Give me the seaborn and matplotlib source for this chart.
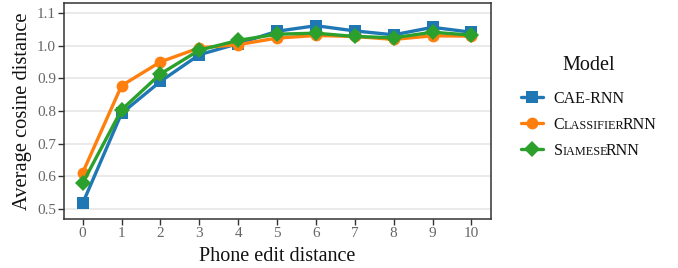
import numpy as np
import pandas as pd
import matplotlib
matplotlib.use("Agg")
import matplotlib.pyplot as plt
import seaborn as sns
from matplotlib.offsetbox import TextArea, HPacker

edit_distance = list(range(11))
cae_rnn = [0.517, 0.793, 0.891, 0.973, 1.007, 1.045, 1.062, 1.046, 1.034, 1.057, 1.042]
classifier_rnn = [0.611, 0.878, 0.951, 0.994, 1.004, 1.024, 1.032, 1.029, 1.020, 1.031, 1.030]
siamese_rnn = [0.579, 0.804, 0.914, 0.987, 1.017, 1.036, 1.039, 1.029, 1.025, 1.042, 1.033]
model_names = ["CAE-RNN", "ClassifierRNN", "SiameseRNN"]
y_ticks = [0.5, 0.6, 0.7, 0.8, 0.9, 1.0, 1.1]

df = pd.concat([
    pd.DataFrame({"Phone edit distance": edit_distance, "Average cosine distance": vals, "Model": name})
    for name, vals in zip(model_names, [cae_rnn, classifier_rnn, siamese_rnn])
])

sns.set_theme(style="whitegrid")
plt.rcParams["font.family"] = ["Liberation Serif", "DejaVu Serif"]

fig = plt.figure(figsize=(6.78, 2.68), dpi=100)
ax = fig.add_axes([0.095, 0.183, 0.629, 0.805])

palette = ["#1f77b4", "#ff7f0e", "#2ca02c"]
sns.lineplot(data=df, x="Phone edit distance", y="Average cosine distance", hue="Model",
             style="Model", markers=["s", "o", "D"], dashes=False, palette=palette,
             linewidth=2.4, markersize=8.5, markeredgewidth=0, ax=ax)

ax.set_xlim(-0.47, 10.5)
ax.set_ylim(0.469, 1.131)
ax.set_xticks(edit_distance)
ax.set_yticks(y_ticks)
ax.set_yticklabels([f"{v:.1f}" for v in y_ticks])
ax.grid(axis="x", visible=False)
ax.grid(axis="y", color="#e6e6e6", linewidth=1.2)
for s in ax.spines.values():
    s.set_color("#333333")
    s.set_linewidth(1.1)
ax.tick_params(axis="both", which="both", length=4, width=1, color="#333333",
               labelcolor="#666666", labelsize=11, pad=2, left=True, bottom=True)
ax.set_xlabel("Phone edit distance", fontsize=14.5, color="#111111", labelpad=5)
ax.set_ylabel("Average cosine distance", fontsize=14.8, color="#111111", labelpad=4)

leg = ax.legend(title="Model", loc="center left", bbox_to_anchor=(1.055, 0.517),
                frameon=False, fontsize=11.5, title_fontsize=14.5, handlelength=1.4,
                labelspacing=0.62, borderaxespad=0, handletextpad=0.65)
leg.get_title().set_color("#111111")
leg._legend_box.sep += 4

parts = {
    "ClassifierRNN": ("C", "LASSIFIER", "RNN"),
    "SiameseRNN": ("S", "IAMESE", "RNN"),
}
tp_big = dict(fontsize=11.5, color="#111111", family=["Liberation Serif", "DejaVu Serif"])
tp_small = dict(fontsize=8.8, color="#111111", family=["Liberation Serif", "DejaVu Serif"])
for col in leg._legend_handle_box.get_children():
    for item in col.get_children():
        ta = item.get_children()[1]
        label = ta._text.get_text()
        if label in parts:
            a, b, c = parts[label]
            first = HPacker(children=[TextArea(a, textprops=tp_big), TextArea(b, textprops=tp_small)],
                            align="baseline", pad=0, sep=0)
            newbox = HPacker(children=[first, TextArea(c, textprops=tp_big)],
                             align="baseline", pad=0, sep=-1.8)
            newbox.set_figure(fig)
            item._children[1] = newbox
for t in leg.get_texts():
    t.set_color("#111111")

fig.savefig("out.png", dpi=100)
